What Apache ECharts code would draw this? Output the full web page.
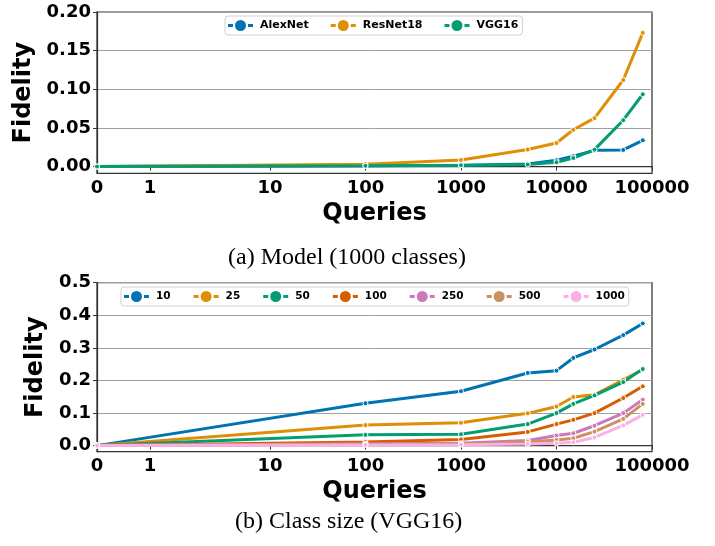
<!DOCTYPE html>
<html>
<head>
<meta charset="utf-8">
<script src="https://cdn.jsdelivr.net/npm/echarts@6/dist/echarts.min.js"></script>
<style>
  html, body { margin: 0; padding: 0; background: #fff; }
  #chart { width: 715px; height: 546px; }
</style>
</head>
<body>
<div id="chart"></div>
<script>
// Query budgets (shared by both panels)
const queries = [0, 100, 1000, 5000, 10000, 15000, 25000, 50000, 80000];

// Panel (a): fidelity per model, 1000 classes
const modelNames = ['AlexNet', 'ResNet18', 'VGG16'];
const alexnet  = [0, 0.001, 0.0015, 0.0034, 0.0082, 0.0133, 0.021, 0.0215, 0.034];
const resnet18 = [0, 0.003, 0.0086, 0.022, 0.0305, 0.0476, 0.0627, 0.112, 0.173];
const vgg16    = [0, 0.001, 0.0017, 0.0026, 0.0056, 0.011, 0.0219, 0.060, 0.0936];

// Panel (b): fidelity per class size, VGG16
const classNames = ['10', '25', '50', '100', '250', '500', '1000'];
const c10   = [0, 0.130, 0.167, 0.223, 0.230, 0.269, 0.295, 0.339, 0.375];
const c25   = [0, 0.063, 0.070, 0.099, 0.120, 0.149, 0.156, 0.202, 0.233];
const c50   = [0, 0.033, 0.035, 0.066, 0.0997, 0.128, 0.154, 0.195, 0.235];
const c100  = [0, 0.011, 0.019, 0.042, 0.066, 0.079, 0.0997, 0.146, 0.182];
const c250  = [0, 0.006, 0.007, 0.0154, 0.031, 0.038, 0.061, 0.0997, 0.141];
const c500  = [0, 0.004, 0.005, 0.011, 0.0175, 0.0226, 0.043, 0.082, 0.128];
const c1000 = [0, 0.002, 0.003, 0.005, 0.007, 0.010, 0.025, 0.062, 0.0945];

// Axis ticks
const xTicks = [0, 1, 10, 100, 1000, 10000, 100000];
const xTickLabels = ['0', '1', '10', '100', '1000', '10000', '100000'];
const yTicksA = [0, 0.05, 0.10, 0.15, 0.20];
const yTickLabelsA = ['0.00', '0.05', '0.10', '0.15', '0.20'];
const yTicksB = [0, 0.1, 0.2, 0.3, 0.4, 0.5];
const yTickLabelsB = ['0.0', '0.1', '0.2', '0.3', '0.4', '0.5'];

const palette = ['#0173b2', '#de8f05', '#029e73', '#d55e00', '#cc78bc', '#ca9161', '#fbafe4'];

// Symmetric log transform (linear below threshold, log10 above)
const LINTHRESH = 2;
const LINSCALE_ADJ = 1 / (1 - 1 / 10);
function symlog(x) {
  return x <= LINTHRESH ? x * LINSCALE_ADJ / LINTHRESH
                        : LINSCALE_ADJ + Math.log10(x / LINTHRESH);
}

const FONT = 'DejaVu Sans';
// Legend handle: short dash, dot, short dash
const legendIcon = 'path://M0,4h5v3H0z M7,5.5a5.5,5.5 0 1 0 11,0a5.5,5.5 0 1 0 -11,0z M20,4h5v3h-5z';

function nearestLabel(v, ticks, labels, tf) {
  let best = 0, bd = Infinity;
  ticks.forEach((t, i) => {
    const d = Math.abs(tf(t) - v);
    if (d < bd) { bd = d; best = i; }
  });
  return labels[best];
}

function xAxisFor(gridIndex) {
  return {
    type: 'value', gridIndex,
    min: symlog(0), max: symlog(100000),
    name: 'Queries', nameLocation: 'middle', nameGap: 28,
    nameTextStyle: { fontFamily: FONT, fontWeight: 'bold', fontSize: 24, color: '#000' },
    axisLine: { show: true, lineStyle: { color: '#333', width: 1.25 } },
    axisTick: { show: true, length: 4, customValues: xTicks.map(symlog), lineStyle: { color: '#333' } },
    axisLabel: {
      customValues: xTicks.map(symlog), margin: 6,
      fontFamily: FONT, fontWeight: 'bold', fontSize: 18, color: '#000',
      formatter: v => nearestLabel(v, xTicks, xTickLabels, symlog)
    },
    splitLine: { show: false }
  };
}

function yAxisFor(gridIndex, min, max, ticks, labels, gap) {
  return {
    type: 'value', gridIndex, min, max,
    name: 'Fidelity', nameLocation: 'middle', nameGap: gap,
    nameTextStyle: { fontFamily: FONT, fontWeight: 'bold', fontSize: 24, color: '#000' },
    axisLine: { show: true, lineStyle: { color: '#333', width: 1.25 } },
    axisTick: { show: true, length: 4, customValues: ticks, lineStyle: { color: '#333' } },
    axisLabel: {
      customValues: ticks, margin: 6,
      fontFamily: FONT, fontWeight: 'bold', fontSize: 18, color: '#000',
      formatter: v => nearestLabel(v, ticks, labels, t => t)
    },
    splitLine: { show: true, lineStyle: { color: '#a0a0a0', width: 1 } }
  };
}

function lineSeries(name, values, color, axisIndex) {
  return {
    type: 'line', name,
    xAxisIndex: axisIndex, yAxisIndex: axisIndex,
    data: queries.map((q, i) => [symlog(q), values[i]]),
    symbol: 'circle', symbolSize: 5, showSymbol: true,
    lineStyle: { color, width: 3 },
    itemStyle: { color, borderColor: '#fff', borderWidth: 1 },
    emphasis: { disabled: true },
    animation: false
  };
}

function legendFor(names, left, top, gap, fontSize) {
  return {
    data: names, left, top, orient: 'horizontal',
    icon: legendIcon, itemWidth: 25, itemHeight: 11, itemGap: gap,
    itemStyle: { borderWidth: 0 },
    padding: [4, 4, 4, 3],
    backgroundColor: 'rgba(255,255,255,0.85)',
    borderColor: '#d0d0d0', borderWidth: 1, borderRadius: 3,
    textStyle: { fontFamily: FONT, fontWeight: 'bold', fontSize, color: '#000', padding: [0, 0, 0, 2] },
    selectedMode: false
  };
}

const chart = echarts.init(document.getElementById('chart'), null, { renderer: 'canvas' });

const seriesA = [alexnet, resnet18, vgg16].map((v, i) => lineSeries(modelNames[i], v, palette[i], 0));
const seriesB = [c10, c25, c50, c100, c250, c500, c1000].map((v, i) => lineSeries(classNames[i], v, palette[i], 1));

chart.setOption({
  animation: false,
  grid: [
    { left: 97, width: 555, top: 12, height: 161.3, show: true, borderColor: '#333', borderWidth: 1.25, backgroundColor: '#fff' },
    { left: 97, width: 555, top: 282.7, height: 169, show: true, borderColor: '#333', borderWidth: 1.25, backgroundColor: '#fff' }
  ],
  xAxis: [xAxisFor(0), xAxisFor(1)],
  yAxis: [
    yAxisFor(0, -0.0087, 0.2, yTicksA, yTickLabelsA, 58),
    yAxisFor(1, -0.0187, 0.5, yTicksB, yTickLabelsB, 43)
  ],
  legend: [
    legendFor(modelNames, 225, 16, 22, 11),
    legendFor(classNames, 121, 287, 23, 10.5)
  ],
  series: seriesA.concat(seriesB),
  graphic: [
    { type: 'text', left: 350 - 122, top: 246,
      style: { text: '(a) Model (1000 classes)', font: '24px "Liberation Serif"', fill: '#000' } },
    { type: 'text', left: 350 - 115, top: 510,
      style: { text: '(b) Class size (VGG16)', font: '24px "Liberation Serif"', fill: '#000' } }
  ]
});
</script>
</body>
</html>
